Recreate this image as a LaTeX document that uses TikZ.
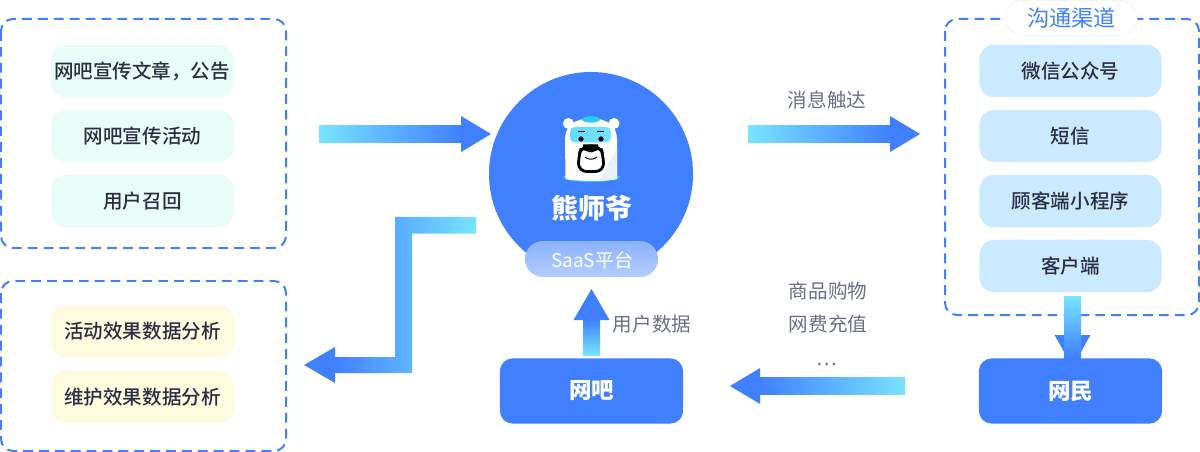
\documentclass[tikz,border=0pt]{standalone}
\usepackage{fontspec}
\usepackage{xcolor}
\setmainfont{Noto Sans CJK SC}
\newfontfamily\cjkmid{Noto Sans CJK SC}[UprightFont=* Medium]
\usetikzlibrary{calc,positioning}
\definecolor{mainblue}{RGB}{64, 128, 255}
\definecolor{lightcyan}{RGB}{120, 228, 255}
\definecolor{mintfill}{RGB}{232, 253, 247}
\definecolor{creamfill}{RGB}{255, 251, 223}
\definecolor{skyfill}{RGB}{203, 234, 255}
\definecolor{darktext}{RGB}{43, 45, 66}
\definecolor{graytext}{RGB}{106, 111, 133}
\definecolor{pillborder}{RGB}{240, 243, 248}
\definecolor{bearcyan}{RGB}{40, 205, 250}
\definecolor{bearshade}{RGB}{232, 240, 250}
\tikzset{
  groupbox/.style={draw=mainblue, line width=1.42pt, dash pattern=on 7pt off 4.3pt, rounded corners=0.3cm},
  itembox/.style={minimum width=4.55cm, minimum height=1.3cm, rounded corners=0.35cm, text=darktext, font=\cjkmid\fontsize{13.9}{16}\selectfont, inner sep=0pt},
  mintbox/.style={itembox, fill=mintfill},
  creambox/.style={itembox, fill=creamfill},
  skybox/.style={itembox, fill=skyfill},
  solidbox/.style={minimum width=4.58cm, minimum height=1.63cm, rounded corners=0.32cm, fill=mainblue, text=white, font=\bfseries\fontsize{16}{18}\selectfont, inner sep=0pt},
  flowlabel/.style={text=graytext, font=\fontsize{13.9}{16}\selectfont, inner sep=0pt},
  arrowhead/.style={fill=mainblue},
}
\begin{document}
\begin{tikzpicture}[x=0.025cm, y=-0.025cm]
  \useasboundingbox (0,0) rectangle (1200,452);

  % Dashed groups
  \draw[groupbox] (1,19) rectangle (286,248);
  \draw[groupbox] (1,281) rectangle (286,451);
  \draw[groupbox] (945,19) rectangle (1199,315);

  % Channel title
  \node[draw=pillborder, fill=white, rounded corners=0.43cm, minimum width=3.28cm, minimum height=0.88cm, text=mainblue, font=\fontsize{15.8}{18}\selectfont, inner sep=0pt] (channeltitle) at (1071.5,18) {沟通渠道};

  % Left items
  \node[mintbox] (article) at (142,71) {网吧宣传文章，公告};
  \node[mintbox] (promo) at (142.5,136) {网吧宣传活动};
  \node[mintbox] (recall) at (142.5,201) {用户召回};
  \node[creambox] (effect1) at (142.5,331) {活动效果数据分析};
  \node[creambox] (effect2) at (142.5,397) {维护效果数据分析};

  % Channel items
  \node[skybox] (wechat) at (1070.5,71) {微信公众号};
  \node[skybox] (sms) at (1070.5,136) {短信};
  \node[skybox] (miniapp) at (1070.5,201) {顾客端小程序};
  \node[skybox] (client) at (1070.5,266) {客户端};

  % Arrow ends
  \coordinate (inS) at (319,134);
  \coordinate (inE) at (491,134);
  \coordinate (outS) at (748,134);
  \coordinate (outE) at (920,134);
  \coordinate (downS) at (1072.5,296);
  \coordinate (downE) at (1072.5,367);
  \coordinate (backS) at (905,386);
  \coordinate (backE) at (730,386);
  \coordinate (upS) at (591.5,355);
  \coordinate (upE) at (591.5,289);
  \coordinate (bendS) at (476,225);
  \coordinate (bendE) at (304,365);

  % Block arrows
  \shade[left color=lightcyan, right color=mainblue] ($(inS)+(0,-8.5)$) rectangle ($(inE)+(-30,8.5)$);
  \fill[arrowhead] ($(inE)+(-30,-18)$) -- (inE) -- ($(inE)+(-30,18)$) -- cycle;

  \shade[left color=lightcyan, right color=mainblue] ($(outS)+(0,-8.5)$) rectangle ($(outE)+(-30,8.5)$);
  \fill[arrowhead] ($(outE)+(-30,-18)$) -- (outE) -- ($(outE)+(-30,18)$) -- cycle;

  \fill[arrowhead] ($(downE)+(-18,-32)$) -- (downE) -- ($(downE)+(18,-32)$) -- cycle;
  \shade[top color=lightcyan, bottom color=mainblue] ($(downS)+(-8.5,0)$) rectangle ($(downE)+(8.5,-9)$);

  \shade[left color=mainblue, right color=lightcyan] ($(backE)+(30,-8.5)$) rectangle ($(backS)+(0,8.5)$);
  \fill[arrowhead] ($(backE)+(30,-18)$) -- (backE) -- ($(backE)+(30,18)$) -- cycle;

  \shade[top color=mainblue, bottom color=lightcyan] ($(upE)+(-8.5,31)$) rectangle ($(upS)+(8.5,0)$);
  \fill[arrowhead] ($(upE)+(-18,31)$) -- (upE) -- ($(upE)+(18,31)$) -- cycle;

  \shade[left color=mainblue, right color=lightcyan] (bendS |- 0,217) -- (395,217) -- (395,357) -- (334,357) -- (334,373) -- (412,373) -- (412,233.5) -- (bendS |- 0,233.5) -- cycle;
  \fill[arrowhead] ($(bendE)+(31,-18)$) -- (bendE) -- ($(bendE)+(31,18)$) -- cycle;

  % Hub
  \node[circle, fill=mainblue, minimum size=5.1cm, inner sep=0pt] (hub) at (591,174) {};
  \node[text=white, font=\bfseries\fontsize{19.2}{22}\selectfont, inner sep=0pt] (hubname) at (591.5,208) {熊师爷};
  \shade[top color=white!40!mainblue, bottom color=white!60!mainblue, rounded corners=0.45cm] (525,241) rectangle (658,277);
  \node[text=white, font=\fontsize{13.5}{16}\selectfont, inner sep=0pt] (saas) at (592,260) {SaaS平台};

  % Bear
  \fill[white] (568.5,123.5) circle (5.5);
  \fill[white] (614,123.5) circle (5.5);
  \fill[bearcyan] (563,176) .. controls (564,184) and (619,184) .. (620,176) -- cycle;
  \fill[white] (565.5,179) -- (565,140) .. controls (565,126) and (574,118.5) .. (591,118.5) .. controls (608,118.5) and (617,126) .. (617,140) -- (617,179) .. controls (605,181.5) and (577,181.5) .. (565.5,179) -- cycle;
  \fill[bearshade] (617,148) -- (617,179) .. controls (612,180) and (606,180.5) .. (599,181) -- (606,168) -- cycle;
  \fill[bearcyan] (591,119.5) ellipse (9 and 3.2);
  \shade[left color=lightcyan!70!bearcyan, right color=lightcyan, rounded corners=0.12cm] (570,127) rectangle (611,142.5);
  \draw[black, line width=0.7pt] (578,131) -- (585,131);
  \draw[black, line width=0.7pt] (597,131) -- (604,131);
  \fill[black] (581,139) circle (2.6);
  \fill[black] (601,139) circle (2.6);
  \draw[black, line width=2pt, fill=white, rounded corners=0.2cm] (578.5,171.5) -- (578.5,156) -- (582,146) -- (600,146) -- (603.5,156) -- (603.5,171.5) -- cycle;
  \fill[black] (583,144.5) -- (598,144.5) -- (598,150) -- (591,152.5) -- (583,150) -- cycle;
  \draw[black, line width=0.7pt] (585,157) .. controls (588,160) and (594,160) .. (597,157);

  % Bottom blocks
  \node[solidbox] (netbar) at (591.5,391) {网吧};
  \node[solidbox] (netizen) at (1070.5,391) {网民};

  % Flow labels
  \node[flowlabel] (reach) at (827,99.5) {消息触达};
  \node[flowlabel] (userdata) at (652,324) {用户数据};
  \node[flowlabel] (shopping) at (828,291) {商品购物};
  \node[flowlabel] (topup) at (828,324) {网费充值};
  \node[flowlabel] (more) at (827,364) {…};

\end{tikzpicture}
\end{document}
